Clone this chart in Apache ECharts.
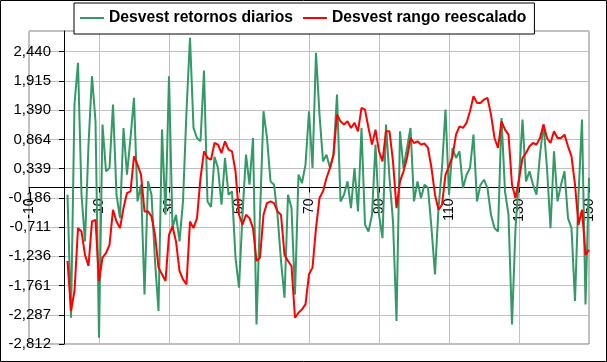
<!DOCTYPE html>
<html>
<head>
<meta charset="utf-8">
<script src="https://cdn.jsdelivr.net/npm/echarts@6.0.0/dist/echarts.min.js"></script>
<style>
html,body{margin:0;padding:0;background:#fff;}
#chart{width:607px;height:362px;}
</style>
</head>
<body>
<div id="chart"></div>
<script>
const seriesNames = ['Desvest retornos diarios', 'Desvest rango reescalado'];
const retornos = [
 -0.13,-2.34,1.50,2.24,-0.13,-0.97,0.77,2.00,1.19,-2.70,
 1.13,0.29,0.35,1.49,-0.13,-0.55,1.07,0.23,0.89,1.61,
 -0.25,0.05,-1.92,0.11,-0.13,-1.32,-2.22,1.04,-0.49,2.00,
 -0.73,-0.49,-0.97,-0.25,1.37,2.69,1.07,0.89,0.83,2.10,
 -0.25,-0.35,0.55,0.35,-0.31,0.53,-0.13,-0.07,-1.26,-1.80,
 -0.49,0.59,0.05,0.89,-2.46,-0.49,1.37,0.89,0.11,0.05,
 -0.49,-1.32,-1.98,-0.13,-0.37,-1.92,0.23,0.08,0.41,1.37,
 0.35,2.42,1.31,0.47,0.59,0.35,0.59,1.67,-0.25,-0.13,
 0.11,-0.37,0.35,-0.43,1.07,-0.67,-0.79,-0.49,0.77,-0.49,
 -0.91,1.13,0.17,-0.61,-2.40,1.01,0.35,0.71,1.07,-0.25,
 0.11,-0.19,0.05,-0.01,-0.73,-1.56,-0.37,0.35,1.40,-0.13,
 0.71,0.53,0.65,-0.01,0.23,0.35,0.95,-0.25,0.05,0.14,
 -0.01,-0.49,-0.73,-0.79,1.25,-0.07,-0.49,-2.46,-0.73,0.17,
 1.22,0.11,0.29,0.05,-0.13,0.59,1.13,0.35,-0.73,0.65,
 -0.25,0.05,0.29,-0.55,-0.73,-2.04,-0.13,1.22,-2.10,0.17
];
const rango = [
 -1.32,-2.22,-1.86,-0.73,-0.79,-1.21,-1.41,-0.61,-0.58,-1.68,
 -1.26,-1.18,-1.03,-0.40,-0.61,-0.73,-0.37,-0.10,-0.07,0.56,
 0.41,0.23,-0.43,-0.43,-0.52,-0.85,-1.44,-1.56,-1.68,-0.85,
 -0.70,-0.97,-1.50,-1.65,-1.74,-0.61,-0.73,-0.55,0.17,0.65,
 0.53,0.50,0.80,0.77,0.62,0.83,0.68,0.65,0.29,-0.49,
 -0.67,-0.49,-0.55,-0.73,-1.32,-1.26,-0.49,-0.28,-0.25,-0.28,
 -0.43,-0.49,-1.21,-1.32,-1.41,-2.34,-2.25,-2.19,-2.10,-1.56,
 -1.44,-0.73,-0.19,-0.07,0.17,0.35,0.59,1.31,1.19,1.13,
 1.19,1.07,1.16,1.01,1.43,1.40,1.07,0.77,1.04,0.65,
 0.47,1.01,1.01,0.47,-0.37,0.11,0.29,0.53,0.89,0.80,
 0.83,0.77,0.79,0.71,0.35,-0.13,-0.40,-0.31,0.23,0.38,
 0.56,0.95,1.10,1.07,1.16,1.37,1.64,1.52,1.52,1.58,
 1.61,1.31,0.89,0.71,1.19,1.04,0.95,0.05,-0.19,0.14,
 0.53,0.62,0.74,0.80,0.77,0.89,1.13,0.89,0.80,1.01,
 0.89,0.89,0.95,0.74,0.56,0.05,-0.67,-0.40,-1.21,-1.12
];
const days = retornos.map((_, i) => i + 1);
const xTickLabels = ['-10','10','30','50','70','90','110','130','150'];
const yTickLabels = ['-2,812','-2,287','-1,761','-1,236','-0,711','-0,186','0,339','0,864','1,390','1,915','2,440'];
const xMin = -10, xMax = 150, xStep = 20;
const yMin = -2.812, yMax = 2.812, yStep = 0.5252;

const font = 'Liberation Sans';
const G = {left: 29, top: 31, width: 560, height: 313};
const chart = echarts.init(document.getElementById('chart'), null, {renderer: 'canvas'});
chart.setOption({
  animation: false,
  backgroundColor: '#ffffff',
  graphic: [{
    type: 'rect', shape: {x: 0.5, y: 0.5, width: 606, height: 361},
    style: {fill: 'none', stroke: '#000', lineWidth: 1}, silent: true, z: 100
  }],
  legend: {
    left: 74, top: 3,
    padding: [7, 8, 8, 6],
    itemGap: 10,
    itemWidth: 24, itemHeight: 2,
    icon: 'rect',
    borderColor: '#000', borderWidth: 1,
    backgroundColor: '#fff',
    textStyle: {fontFamily: font, fontSize: 15.7, fontWeight: 'bold', color: '#000'},
    data: seriesNames
  },
  grid: Object.assign({show: true, borderColor: '#808080', borderWidth: 1, backgroundColor: '#fff', outerBoundsMode: 'none', containLabel: false}, G),
  xAxis: {
    type: 'value', min: xMin, max: xMax, interval: xStep, position: 'bottom',
    axisLine: {onZero: false, lineStyle: {color: '#000', width: 1}},
    axisTick: {show: true, length: 5, lineStyle: {color: '#000'}},
    axisLabel: {
      rotate: 90, margin: 11, color: '#000', fontFamily: font, fontSize: 14,
      formatter: v => { const k = Math.round((v - xMin) / xStep); return xTickLabels[k] || ''; }
    },
    splitLine: {show: true, lineStyle: {color: '#c0c0c0', width: 1}}
  },
  yAxis: {
    type: 'value', min: yMin, max: yMax, interval: yStep, position: 'left',
    axisLine: {onZero: false, lineStyle: {color: '#000', width: 1}},
    axisTick: {show: true, length: 5, lineStyle: {color: '#000'}},
    axisLabel: {
      margin: 13, color: '#000', fontFamily: font, fontSize: 15, showMaxLabel: false,
      formatter: v => { const k = Math.round((v - yMin) / yStep); return (Math.abs(v - (yMin + k * yStep)) < 0.01) ? (yTickLabels[k] || '') : ''; }
    },
    splitLine: {show: true, lineStyle: {color: '#c0c0c0', width: 1}}
  },
  series: [
    {
      name: seriesNames[0], type: 'line', symbol: 'none',
      data: days.map((d, i) => [d, retornos[i]]),
      itemStyle: {color: '#339966'},
      lineStyle: {color: '#339966', width: 2}, z: 2
    },
    {
      name: seriesNames[1], type: 'line', symbol: 'none',
      data: days.map((d, i) => [d, rango[i]]),
      itemStyle: {color: '#ff0000'},
      lineStyle: {color: '#ff0000', width: 2}, z: 3
    }
  ]
});
// place both axes where the other axis is zero, using the library's own scales
const p0 = chart.convertToPixel({gridIndex: 0}, [0, 0]);
chart.setOption({
  xAxis: {offset: p0[1] - (G.top + G.height)},
  yAxis: {offset: G.left - p0[0]}
});
</script>
</body>
</html>
